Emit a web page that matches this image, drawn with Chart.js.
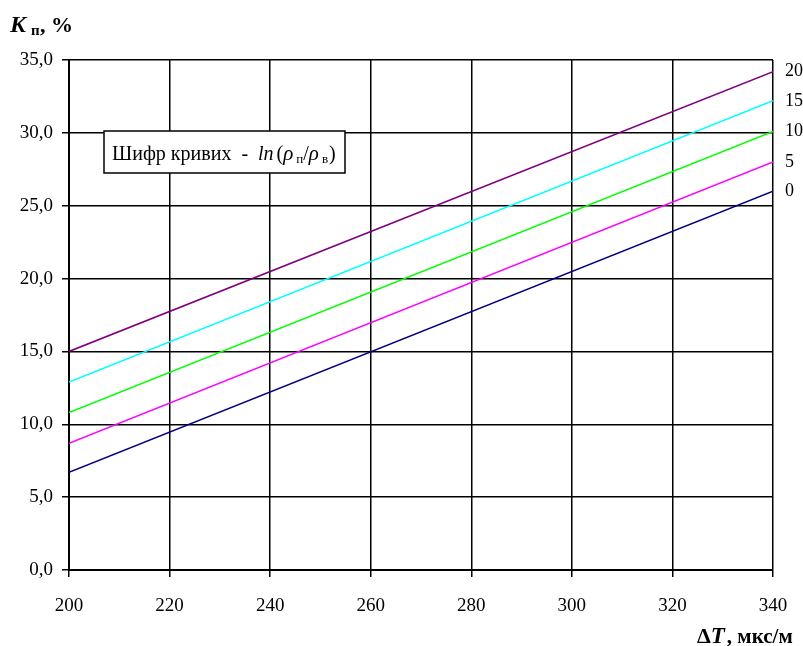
<!DOCTYPE html>
<html>
<head>
<meta charset="utf-8">
<script src="https://cdn.jsdelivr.net/npm/chart.js@4/dist/chart.umd.min.js"></script>
<style>
  html, body { margin: 0; padding: 0; background: #fff; }
  #wrap { width: 803px; height: 646px; position: relative; }
</style>
</head>
<body>
<div id="wrap"><canvas id="chart" width="803" height="646"></canvas></div>
<script>
// Дані кривих (ΔT, мкс/м -> Kп, %)
const xValues = [200, 340];
const curveCodes = ["0", "5", "10", "15", "20"];
const curve0 = [6.7, 26.0];
const curve5 = [8.7, 28.0];
const curve10 = [10.8, 30.1];
const curve15 = [12.9, 32.2];
const curve20 = [15.0, 34.2];
const curveColors = ["#000080", "#FF00FF", "#00FF00", "#00FFFF", "#800080"];

const serif = "'Liberation Serif', 'Times New Roman', serif";

const allCurves = [curve0, curve5, curve10, curve15, curve20];
const datasets = allCurves.map((vals, i) => ({
  label: curveCodes[i],
  data: vals.map((v, j) => ({ x: xValues[j], y: v })),
  borderColor: curveColors[i],
  borderWidth: 1.5,
  pointRadius: 0,
  fill: false,
  tension: 0
}));

// підписи, заголовки осей і рамка-легенда
const decorPlugin = {
  id: "decor",
  afterDraw(chart) {
    const ctx = chart.ctx;
    const xs = chart.scales.x, ys = chart.scales.y;
    ctx.save();
    ctx.fillStyle = "#000";
    ctx.textBaseline = "middle";
    ctx.textAlign = "left";
    ctx.font = "18px " + serif;
    chart.data.datasets.forEach(ds => {
      const last = ds.data[ds.data.length - 1];
      ctx.fillText(ds.label, xs.right + 12, ys.getPixelForValue(last.y));
    });

    // заголовок осі Y: K п, %
    ctx.textBaseline = "alphabetic";
    ctx.font = "bold italic 24px " + serif;
    ctx.fillText("K", 10, 32);
    ctx.font = "bold 15px " + serif;
    ctx.fillText("п", 31, 35);
    ctx.font = "bold 22px " + serif;
    ctx.fillText(", %", 40, 32);

    // заголовок осі X: ΔT, мкс/м
    let x = 697;
    const by = 643;
    ctx.font = "bold 22px " + serif;
    ctx.fillText("Δ", x, by); x += ctx.measureText("Δ").width;
    ctx.font = "bold italic 23px " + serif;
    ctx.fillText("T", x, by); x += ctx.measureText("T").width + 2;
    ctx.font = "bold 21px " + serif;
    ctx.fillText(", мкс/м", x, by);

    // рамка з шифром кривих
    const bx = 104, byTop = 131, bw = 241, bh = 42;
    ctx.fillStyle = "#fff";
    ctx.fillRect(bx, byTop, bw, bh);
    ctx.lineWidth = 1.5;
    ctx.strokeStyle = "#000";
    ctx.strokeRect(bx, byTop, bw, bh);
    ctx.fillStyle = "#000";
    const ty = 160;
    let tx = bx + 8;
    const part = (txt, font, dy = 0, gap = 0) => {
      ctx.font = font;
      ctx.fillText(txt, tx, ty + dy);
      tx += ctx.measureText(txt).width + gap;
    };
    part("Шифр кривих", "20px " + serif, 0, 10);
    part("-", "20px " + serif, 0, 10);
    part("ln", "italic 20px " + serif, 0, 3);
    part("(", "20px " + serif);
    part("ρ", "italic 21px " + serif, 0, 3);
    part("п", "13px " + serif, 3);
    part("/", "20px " + serif);
    part("ρ", "italic 21px " + serif, 0, 3);
    part("в", "13px " + serif, 3, 1);
    part(")", "20px " + serif);
    ctx.restore();
  }
};

new Chart(document.getElementById("chart"), {
  type: "line",
  data: { datasets },
  options: {
    responsive: false,
    animation: false,
    layout: { padding: { top: 60, right: 30, left: 0, bottom: 0 } },
    plugins: { legend: { display: false }, tooltip: { enabled: false } },
    scales: {
      x: {
        type: "linear",
        min: 200, max: 340,
        afterFit(scale) {
          scale.height = 76;
          scale.paddingRight = 0;
          scale.paddingLeft = 0;
        },
        ticks: {
          stepSize: 20,
          color: "#000",
          padding: 18,
          font: { family: serif, size: 19 }
        },
        grid: { color: "#000", lineWidth: 1.5, tickLength: 7, tickColor: "#000" },
        border: { color: "#000", width: 2 }
      },
      y: {
        min: 0, max: 35,
        afterFit(scale) { scale.width = 69; },
        ticks: {
          stepSize: 5,
          color: "#000",
          padding: 9,
          font: { family: serif, size: 19 },
          callback: v => v.toFixed(1).replace(".", ",")
        },
        grid: { color: "#000", lineWidth: 1.5, tickLength: 7, tickColor: "#000" },
        border: { color: "#000", width: 2 }
      }
    }
  },
  plugins: [decorPlugin]
});
</script>
</body>
</html>
